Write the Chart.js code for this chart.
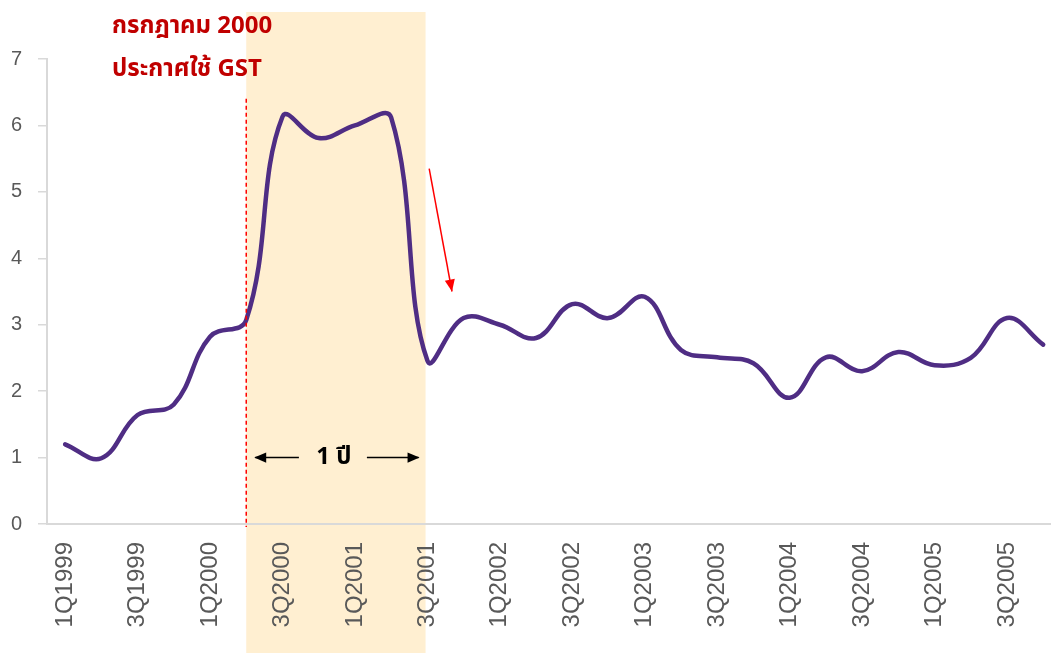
<!DOCTYPE html>
<html>
<head>
<meta charset="utf-8">
<script src="https://cdn.jsdelivr.net/npm/chart.js@4"></script>
<style>
  html, body { margin: 0; padding: 0; background: #fff; overflow: hidden; }
  #wrap { position: relative; width: 1090px; height: 653px; }
</style>
</head>
<body>
<div id="wrap"><canvas id="chart"></canvas></div>
<script>
let quarters = [
    "1Q1999", "2Q1999", "3Q1999", "4Q1999",
    "1Q2000", "2Q2000", "3Q2000", "4Q2000",
    "1Q2001", "2Q2001", "3Q2001", "4Q2001",
    "1Q2002", "2Q2002", "3Q2002", "4Q2002",
    "1Q2003", "2Q2003", "3Q2003", "4Q2003",
    "1Q2004", "2Q2004", "3Q2004", "4Q2004",
    "1Q2005", "2Q2005", "3Q2005", "4Q2005"
]

let inflation = [
    1.2, 0.99, 1.64, 1.8,
    2.82, 3.07, 6.13, 5.81,
    6.0, 6.12, 2.46, 3.1,
    3.0, 2.8, 3.31, 3.1,
    3.42, 2.62, 2.51, 2.42,
    1.9, 2.51, 2.3, 2.59,
    2.39, 2.5, 3.1, 2.7
]

let yTicks = [0, 1, 2, 3, 4, 5, 6, 7]

// GST period: from 2Q2000 to 3Q2001
let gstStart = 5
let gstEnd = 9.95

let noteLines = ["กรกฎาคม 2000", "ประกาศใช้ GST"]
let spanLabel = "1 ปี"

let thaiFont = "'Noto Sans Thai', 'Tahoma', 'Liberation Sans', sans-serif"

let arrowHead = function(ctx, x1, y1, x2, y2, size) {
    let a = Math.atan2(y2 - y1, x2 - x1)
    ctx.beginPath()
    ctx.moveTo(x2, y2)
    ctx.lineTo(x2 - size * Math.cos(a - 0.4), y2 - size * Math.sin(a - 0.4))
    ctx.lineTo(x2 - size * Math.cos(a + 0.4), y2 - size * Math.sin(a + 0.4))
    ctx.closePath()
    ctx.fill()
}

let gstPlugin = {
    id: 'gst',
    beforeDraw(chart) {
        let ctx = chart.ctx
        let x = chart.scales.x
        let x0 = x.getPixelForValue(gstStart)
        let x1 = x.getPixelForValue(gstEnd)
        ctx.save()
        ctx.fillStyle = '#FFEFD1'
        ctx.fillRect(x0, 12, x1 - x0, chart.height - 12)
        ctx.restore()
    },
    afterDatasetsDraw(chart) {
        let ctx = chart.ctx
        let x = chart.scales.x
        let y = chart.scales.y
        let x0 = x.getPixelForValue(gstStart)
        let x1 = x.getPixelForValue(gstEnd)
        ctx.save()

        // dashed line at start of GST
        ctx.strokeStyle = '#FF0000'
        ctx.lineWidth = 1.5
        ctx.setLineDash([4, 3])
        ctx.beginPath()
        ctx.moveTo(x0, y.getPixelForValue(6.4))
        ctx.lineTo(x0, y.getPixelForValue(0) + 3)
        ctx.stroke()
        ctx.setLineDash([])

        // red arrow after the drop
        let ax1 = x.getPixelForValue(10.05), ay1 = y.getPixelForValue(5.35)
        let ax2 = x.getPixelForValue(10.68), ay2 = y.getPixelForValue(3.5)
        ctx.lineWidth = 1.5
        ctx.beginPath()
        ctx.moveTo(ax1, ay1)
        ctx.lineTo(ax2, ay2)
        ctx.stroke()
        ctx.fillStyle = '#FF0000'
        arrowHead(ctx, ax1, ay1, ax2, ay2, 13)

        // notes
        ctx.fillStyle = '#C00000'
        ctx.font = 'bold 24px ' + thaiFont
        ctx.textAlign = 'left'
        ctx.textBaseline = 'middle'
        ctx.fillText(noteLines[0], 112, 28)
        ctx.fillText(noteLines[1], 112, 71)

        // "1 ปี" span
        let sy = y.getPixelForValue(1)
        let mid = (x0 + x1) / 2 - 2
        ctx.fillStyle = '#000'
        ctx.strokeStyle = '#000'
        ctx.font = 'bold 24px ' + thaiFont
        ctx.textAlign = 'center'
        ctx.fillText(spanLabel, mid, sy + 2)
        ctx.lineWidth = 1.5
        ctx.beginPath()
        ctx.moveTo(mid - 35, sy)
        ctx.lineTo(x0 + 9, sy)
        ctx.moveTo(mid + 33, sy)
        ctx.lineTo(x1 - 7, sy)
        ctx.stroke()
        arrowHead(ctx, mid - 35, sy, x0 + 8, sy, 13)
        arrowHead(ctx, mid + 33, sy, x1 - 6, sy, 13)

        ctx.restore()
    }
}

let chart = new Chart(
    document.getElementById("chart"),
    {
        type: 'line',
        data: {
            labels: quarters,
            datasets: [
                {
                    label: 'Inflation',
                    data: inflation,
                    fill: false,
                    borderColor: '#4F2D84',
                    borderWidth: 4.5,
                    borderCapStyle: 'round',
                    tension: 0.4,
                    pointRadius: 0,
                    pointHoverRadius: 0
                }
            ]
        },
        options: {
            responsive: true,
            maintainAspectRatio: false,
            animation: false,
            layout: {
                padding: { top: 59, right: 0, left: 0, bottom: 0 }
            },
            plugins: {
                legend: { display: false },
                tooltip: { enabled: false }
            },
            scales: {
                x: {
                    offset: true,
                    grid: { display: false, drawTicks: false },
                    border: { color: '#D9D9D9', width: 2 },
                    ticks: {
                        autoSkip: false,
                        minRotation: 90,
                        maxRotation: 90,
                        padding: 18,
                        color: '#595959',
                        font: { size: 24, family: "'Liberation Sans', Arial, sans-serif" },
                        callback: function(value, index) {
                            return index % 2 === 0 ? quarters[index] : ''
                        }
                    },
                    afterFit: function(scale) { scale.height = 129 }
                },
                y: {
                    min: 0,
                    max: 7,
                    afterBuildTicks: function(scale) {
                        scale.ticks = yTicks.map(v => ({ value: v }))
                    },
                    grid: {
                        drawOnChartArea: false,
                        drawTicks: true,
                        tickLength: 9,
                        color: '#D9D9D9',
                        lineWidth: 1.5
                    },
                    border: { color: '#D9D9D9', width: 2 },
                    ticks: {
                        padding: 16,
                        color: '#595959',
                        font: { size: 20, family: "'Liberation Sans', Arial, sans-serif" }
                    },
                    afterFit: function(scale) { scale.width = 47 }
                }
            }
        },
        plugins: [gstPlugin]
    }
)
</script>
</body>
</html>
